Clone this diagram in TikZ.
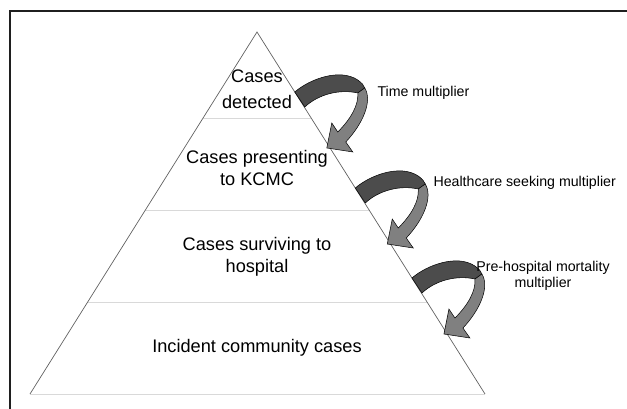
\documentclass[tikz,border=0pt]{standalone}
\usepackage{fontspec}
\setmainfont{Liberation Sans}
\usetikzlibrary{calc}

\begin{document}
\begin{tikzpicture}[
  x=1pt, y=-1pt,
  frame/.style={draw=black!88, line width=2pt},
  side/.style={draw=black!62, line width=0.7pt},
  divider/.style={draw=black!15, line width=0.8pt},
  tier/.style={align=center, font=\fontsize{18.2}{21.5}\selectfont},
  note/.style={align=center, font=\fontsize{14.2}{16}\selectfont},
  turnarrow/.pic={
    % upper face of the band
    \filldraw[fill=black!70, draw=black, line width=0.5pt]
      (0,0) .. controls (15,-13) and (45,-24) .. (63,-12)
      .. controls (67,-9) and (69,-7) .. (70,-4) -- (63,1)
      .. controls (45,-3) and (24,2) .. (10,15) -- cycle;
    % lower face and head
    \filldraw[fill=black!50, draw=black, line width=0.5pt]
      (63,1) -- (70,-4) .. controls (78,9) and (68,32) .. (51,50)
      -- (58,60) -- (32,56) -- (37,31) -- (43,40)
      .. controls (56,27) and (64,13) .. (63,1) -- cycle;
  }]
\useasboundingbox (0,0) rectangle (627,409);
\draw[frame] (10,440) |- (660,11);

% pyramid
\coordinate (apex) at (257,32);
\coordinate (bl) at (30,394);
\coordinate (br) at (485,394);
\draw[divider] ($(apex)!0.2376!(bl)$) -- ($(apex)!0.2376!(br)$);
\draw[divider] ($(apex)!0.4917!(bl)$) -- ($(apex)!0.4917!(br)$);
\draw[divider] ($(apex)!0.7459!(bl)$) -- ($(apex)!0.7459!(br)$);
\draw[divider] (bl) -- (br);
\draw[side] (bl) -- (apex) -- (br);

\node[tier] (detected) at (257,89) {Cases\\[4pt]detected};
\node[tier] (presenting) at (257,168) {Cases presenting\\to KCMC};
\node[tier] (surviving) at (257,257) {Cases surviving to\\hospital};
\node[tier] (incident) at (257,348) {Incident community cases};

% multipliers
\pic at ($(apex)!0.1657!(br)$) {turnarrow};
\pic at ($(apex)!0.4310!(br)$) {turnarrow};
\pic at ($(apex)!0.6796!(br)$) {turnarrow};

\node[note, anchor=west] (time) at (374,93) {Time multiplier};
\node[note, anchor=west] (seeking) at (430,183) {Healthcare seeking multiplier};
\node[note] (mortality) at (543,276) {Pre-hospital mortality\\multiplier};
\end{tikzpicture}
\end{document}
